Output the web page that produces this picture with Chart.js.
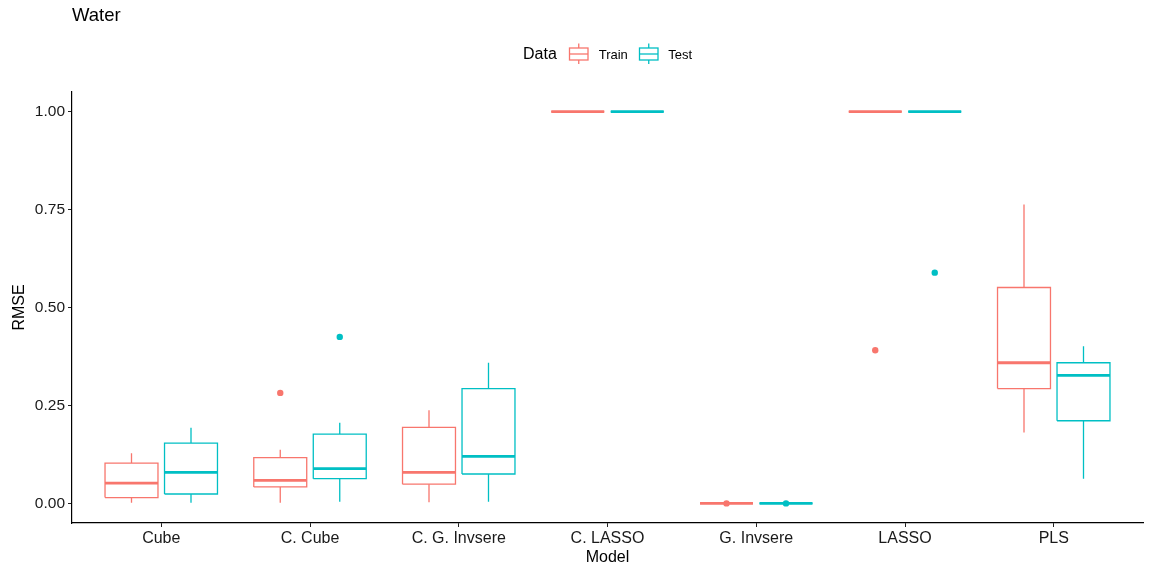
<!DOCTYPE html>
<html>
<head>
<meta charset="utf-8">
<title>Water RMSE</title>
<script src="https://cdn.jsdelivr.net/npm/chart.js@4/dist/chart.umd.min.js"></script>
<style>
  html, body { margin: 0; padding: 0; background: #fff; }
  #wrap { width: 1152px; height: 569px; }
</style>
</head>
<body>
<div id="wrap"><canvas id="chart" width="1152" height="569"></canvas></div>
<script>
// Models along the x axis
const models = ['Cube', 'C. Cube', 'C. G. Invsere', 'C. LASSO', 'G. Invsere', 'LASSO', 'PLS'];

// Five-number summaries (whisker ends, quartiles, median) per model
const trainMin    = [0.002, 0.002, 0.003, 1.000, 0.000, 1.000, 0.181];
const trainQ1     = [0.015, 0.042, 0.049, 1.000, 0.000, 1.000, 0.293];
const trainMedian = [0.052, 0.059, 0.079, 1.000, 0.000, 1.000, 0.359];
const trainQ3     = [0.103, 0.117, 0.194, 1.000, 0.000, 1.000, 0.551];
const trainMax    = [0.128, 0.137, 0.238, 1.000, 0.000, 1.000, 0.763];

const testMin     = [0.002, 0.004, 0.004, 1.000, 0.000, 1.000, 0.063];
const testQ1      = [0.024, 0.063, 0.075, 1.000, 0.000, 1.000, 0.211];
const testMedian  = [0.079, 0.089, 0.120, 1.000, 0.000, 1.000, 0.327];
const testQ3      = [0.154, 0.177, 0.293, 1.000, 0.000, 1.000, 0.359];
const testMax     = [0.193, 0.206, 0.359, 1.000, 0.000, 1.000, 0.401];

// Outlying points: [model, RMSE]
const trainOutliers = [['C. Cube', 0.282], ['G. Invsere', 0.000], ['LASSO', 0.391]];
const testOutliers  = [['C. Cube', 0.425], ['G. Invsere', 0.000], ['LASSO', 0.589]];

// Axis ticks
const yTicks = [0, 0.25, 0.5, 0.75, 1.0];

const TRAIN_COLOR = '#F8766D';
const TEST_COLOR = '#00BFC4';
const DODGE = 0.2;      // horizontal shift of each group from the category centre
const HALF_BOX = 0.178; // half width of a box, in category units
const FONT = '"Liberation Sans", Arial, Helvetica, sans-serif';

const series = [
  { name: 'Train', color: TRAIN_COLOR, shift: -DODGE, min: trainMin, q1: trainQ1, med: trainMedian, q3: trainQ3, max: trainMax, out: trainOutliers },
  { name: 'Test',  color: TEST_COLOR,  shift:  DODGE, min: testMin,  q1: testQ1,  med: testMedian,  q3: testQ3,  max: testMax,  out: testOutliers }
];

function boxOutline(s) {
  const pts = [];
  models.forEach((m, i) => {
    const c = i + 1 + s.shift;
    const l = c - HALF_BOX, r = c + HALF_BOX;
    pts.push({ x: l, y: s.q1[i] }, { x: r, y: s.q1[i] }, { x: r, y: s.q3[i] },
             { x: l, y: s.q3[i] }, { x: l, y: s.q1[i] }, { x: c, y: null });
  });
  return pts;
}

function whiskers(s) {
  const pts = [];
  models.forEach((m, i) => {
    const c = i + 1 + s.shift;
    pts.push({ x: c, y: s.q3[i] }, { x: c, y: s.max[i] }, { x: c, y: null },
             { x: c, y: s.min[i] }, { x: c, y: s.q1[i] }, { x: c, y: null });
  });
  return pts;
}

function medians(s) {
  const pts = [];
  models.forEach((m, i) => {
    const c = i + 1 + s.shift;
    pts.push({ x: c - HALF_BOX, y: s.med[i] }, { x: c + HALF_BOX, y: s.med[i] }, { x: c, y: null });
  });
  return pts;
}

function outlierPoints(s) {
  return s.out.map(([m, v]) => ({ x: models.indexOf(m) + 1 + s.shift, y: v }));
}

const datasets = [];
series.forEach(s => {
  const lineBase = { type: 'line', borderColor: s.color, pointRadius: 0, pointHoverRadius: 0, spanGaps: false, tension: 0, fill: false };
  datasets.push({ ...lineBase, label: s.name + ' whiskers', data: whiskers(s), borderWidth: 1.3 });
  datasets.push({ ...lineBase, label: s.name + ' boxes', data: boxOutline(s), borderWidth: 1.3 });
  datasets.push({ ...lineBase, label: s.name + ' medians', data: medians(s), borderWidth: 2.8, borderCapStyle: 'butt' });
  datasets.push({ type: 'scatter', label: s.name + ' outliers', data: outlierPoints(s),
    backgroundColor: s.color, borderWidth: 0, pointRadius: 3.2, pointHoverRadius: 3.2 });
});

// Title and legend drawn above the plot panel
const headerPlugin = {
  id: 'header',
  afterDraw(chart) {
    const ctx = chart.ctx;
    ctx.save();
    ctx.fillStyle = '#000';
    ctx.textBaseline = 'alphabetic';
    ctx.textAlign = 'left';
    ctx.font = '18.5px ' + FONT;
    ctx.fillText('Water', 72, 20.5);

    ctx.textBaseline = 'middle';
    ctx.font = '16px ' + FONT;
    ctx.fillText('Data', 523, 55);

    const keys = [
      { label: 'Train', color: TRAIN_COLOR, x: 569.5, tx: 598.7 },
      { label: 'Test',  color: TEST_COLOR,  x: 639.5, tx: 668.3 }
    ];
    keys.forEach(k => {
      ctx.strokeStyle = k.color;
      ctx.lineWidth = 1.3;
      const cx = k.x + 9.25;
      ctx.beginPath();
      ctx.moveTo(cx, 43.5); ctx.lineTo(cx, 48);
      ctx.moveTo(cx, 60); ctx.lineTo(cx, 64);
      ctx.stroke();
      ctx.strokeRect(k.x, 48, 18.5, 12);
      ctx.beginPath();
      ctx.moveTo(k.x, 54); ctx.lineTo(k.x + 18.5, 54);
      ctx.stroke();
      ctx.fillStyle = '#000';
      ctx.font = '13px ' + FONT;
      ctx.fillText(k.label, k.tx, 55);
    });
    ctx.restore();
  }
};

new Chart(document.getElementById('chart'), {
  data: { datasets },
  options: {
    responsive: false,
    animation: false,
    devicePixelRatio: 1,
    layout: { padding: { top: 92, right: 9, left: 0, bottom: 0 } },
    plugins: { legend: { display: false }, tooltip: { enabled: false }, title: { display: false } },
    scales: {
      x: {
        type: 'linear',
        min: 0.4,
        max: 7.6,
        afterBuildTicks(scale) { scale.ticks = models.map((m, i) => ({ value: i + 1 })); },
        afterFit(scale) { scale.height = 46; },
        ticks: {
          autoSkip: false,
          maxRotation: 0,
          padding: 2,
          color: '#1a1a1a',
          font: { family: FONT, size: 16 },
          callback: v => models[Math.round(v) - 1] ?? ''
        },
        grid: { display: true, drawOnChartArea: false, drawTicks: true, tickLength: 4, color: '#222', lineWidth: 1 },
        border: { display: true, color: '#000', width: 1.2 },
        title: { display: true, text: 'Model', color: '#000', font: { family: FONT, size: 16 }, padding: { top: 0, bottom: 2 } }
      },
      y: {
        type: 'linear',
        min: -0.05,
        max: 1.05,
        afterBuildTicks(scale) { scale.ticks = yTicks.map(v => ({ value: v })); },
        afterFit(scale) { scale.width = 72; },
        ticks: {
          padding: 3,
          color: '#1a1a1a',
          font: { family: FONT, size: 15.5 },
          callback: v => Number(v).toFixed(2)
        },
        grid: { display: true, drawOnChartArea: false, drawTicks: true, tickLength: 4, color: '#222', lineWidth: 1 },
        border: { display: true, color: '#000', width: 1.2 },
        title: { display: true, text: 'RMSE', color: '#000', font: { family: FONT, size: 16 }, padding: { top: 10, bottom: 0 } }
      }
    }
  },
  plugins: [headerPlugin]
});
</script>
</body>
</html>
